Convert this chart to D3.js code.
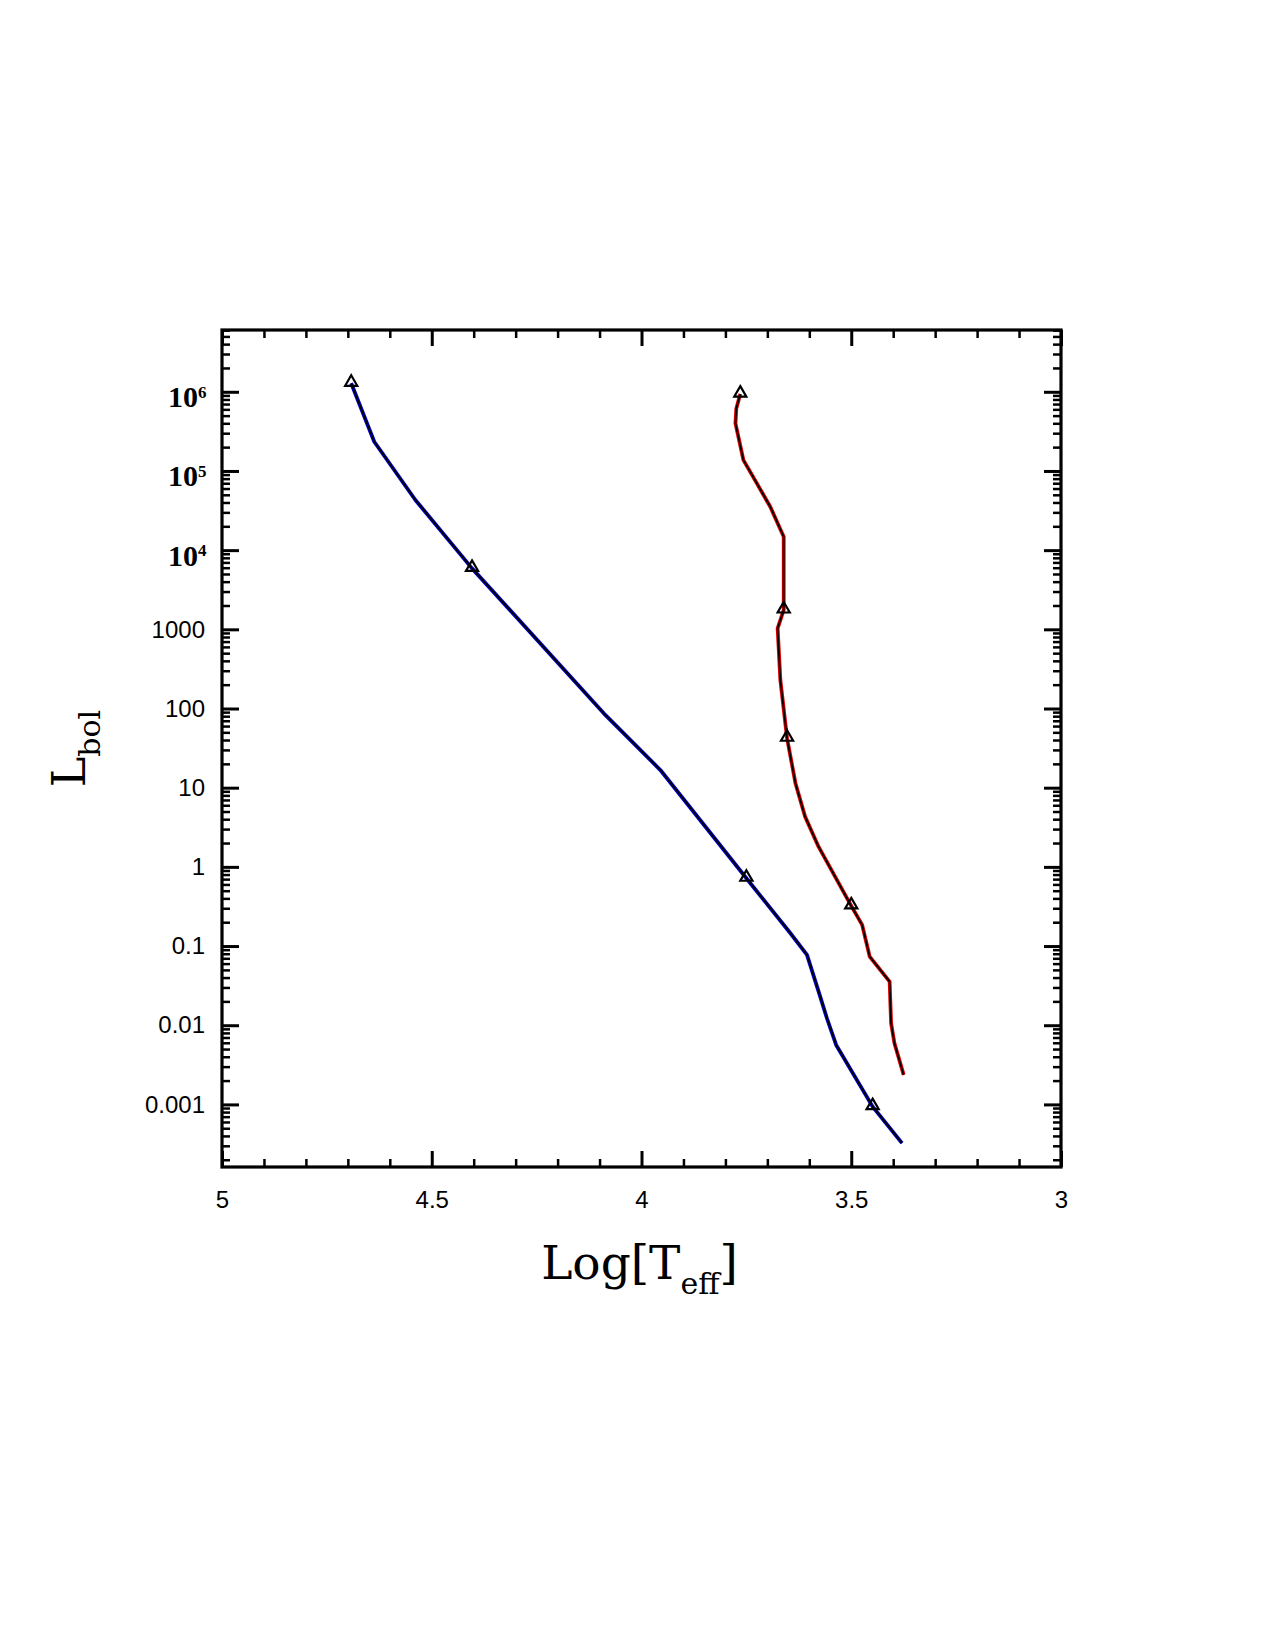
<!DOCTYPE html>
<html>
<head>
<meta charset="utf-8">
<script src="https://cdn.jsdelivr.net/npm/d3@7"></script>
<style>
  body { margin: 0; background: #fff; }
  svg { display: block; }
</style>
</head>
<body>
<div class="chart"></div>
<script>
// track 1 (blue): log Teff and bolometric luminosity
var blueLogT = [4.692, 4.637, 4.539, 4.404, 4.090, 3.955, 3.750, 3.645, 3.6055, 3.574, 3.558, 3.536, 3.449, 3.379];
var blueLum  = [1.28e6, 2.34e5, 4.30e4, 5.89e3, 86.9, 16.7, 0.718, 0.145, 0.0773, 0.0230, 0.01225, 0.00564, 9.38e-4, 3.24e-4];

// track 2 (red)
var redLogT = [3.7645, 3.774, 3.776, 3.757, 3.725, 3.693, 3.661, 3.661, 3.6755, 3.669, 3.653, 3.633, 3.610, 3.578, 3.500, 3.474, 3.456, 3.4085, 3.405, 3.397, 3.375];
var redLum  = [9.35e5, 6.17e5, 3.99e5, 1.37e5, 6.97e4, 3.53e4, 1.48e4, 1754, 1030, 229, 42.1, 11.4, 4.31, 1.80, 0.321, 0.185, 0.0735, 0.0356, 0.0106, 0.00593, 0.00236];

// triangle markers
var blueMarkLogT = [4.692, 4.404, 3.750, 3.449];
var blueMarkLum  = [1.28e6, 5.89e3, 0.718, 9.38e-4];
var redMarkLogT = [3.7645, 3.661, 3.653, 3.500];
var redMarkLum  = [9.35e5, 1754, 42.1, 0.321];

var xMajor = [5, 4.5, 4, 3.5, 3];
var yMajor = [1e-3, 1e-2, 1e-1, 1, 10, 100, 1000, 1e4, 1e5, 1e6];
var yLabels = ["0.001", "0.01", "0.1", "1", "10", "100", "1000", "10|4", "10|5", "10|6"];

var W = 1275, H = 1650;
var margin = { top: 330, right: 214, bottom: 483, left: 222 },
    width = W - margin.left - margin.right,
    height = H - margin.top - margin.bottom;

var svg = d3.select(".chart")
    .append("svg")
    .attr("width", W)
    .attr("height", H)
    .style("background", "#fff");

var g = svg.append("g")
    .attr("transform", "translate(" + margin.left + "," + margin.top + ")");

var x = d3.scaleLinear().domain([5, 3]).range([0, width]);
var y = d3.scaleLog().domain([1.62e-4, 6.03e6]).range([height, 0]);

var xMinor = d3.range(50, 29, -1).map(d => d / 10).filter(d => xMajor.indexOf(d) < 0);
var yMinor = [];
for (var e = -4; e <= 6; e++) {
    for (var k = 2; k <= 9; k++) {
        var v = k * Math.pow(10, e);
        if (v > y.domain()[0] && v < y.domain()[1]) yMinor.push(v);
    }
}

function styleAxis(sel, w) {
    sel.select(".domain").remove();
    sel.selectAll(".tick line").attr("stroke", "#000").attr("stroke-width", w);
}

// bottom axis
g.append("g")
    .attr("transform", "translate(0," + height + ")")
    .call(d3.axisBottom(x).tickValues(xMajor).tickSizeInner(-16).tickSizeOuter(0).tickPadding(24)
        .tickFormat(d3.format("")))
    .call(s => styleAxis(s, 3))
    .selectAll("text")
    .attr("fill", "#000")
    .style("font-family", "'Liberation Sans', Arial, sans-serif")
    .style("font-size", "24px");

g.append("g")
    .attr("transform", "translate(0," + height + ")")
    .call(d3.axisBottom(x).tickValues(xMinor).tickSize(-8).tickFormat(""))
    .call(s => styleAxis(s, 2.5));

// top axis
g.append("g")
    .call(d3.axisTop(x).tickValues(xMajor).tickSize(-16).tickFormat(""))
    .call(s => styleAxis(s, 3));
g.append("g")
    .call(d3.axisTop(x).tickValues(xMinor).tickSize(-8).tickFormat(""))
    .call(s => styleAxis(s, 2.5));

// left axis
var left = g.append("g")
    .call(d3.axisLeft(y).tickValues(yMajor).tickSizeInner(-17).tickSizeOuter(0).tickPadding(17)
        .tickFormat((d, i) => yLabels[i]))
    .call(s => styleAxis(s, 3));

left.selectAll(".tick text").each(function (d, i) {
    var t = d3.select(this);
    var lab = yLabels[i];
    t.attr("fill", "#000");
    if (lab.indexOf("|") >= 0) {
        var parts = lab.split("|");
        t.text(null)
            .attr("dy", "0.5em")
            .style("font-family", "'Liberation Serif', 'Times New Roman', serif")
            .style("font-weight", "bold")
            .style("font-size", "30px");
        t.append("tspan").text(parts[0]);
        t.append("tspan").text(parts[1]).attr("dy", "-0.55em").style("font-size", "17px");
        t.attr("dx", "0.05em");
    } else {
        t.style("font-family", "'Liberation Sans', Arial, sans-serif").style("font-size", "24px");
    }
});

g.append("g")
    .call(d3.axisLeft(y).tickValues(yMinor).tickSize(-8).tickFormat(""))
    .call(s => styleAxis(s, 2.5));

// right axis
g.append("g")
    .attr("transform", "translate(" + width + ",0)")
    .call(d3.axisRight(y).tickValues(yMajor).tickSize(-17).tickFormat(""))
    .call(s => styleAxis(s, 3));
g.append("g")
    .attr("transform", "translate(" + width + ",0)")
    .call(d3.axisRight(y).tickValues(yMinor).tickSize(-8).tickFormat(""))
    .call(s => styleAxis(s, 2.5));

// frame
g.append("rect")
    .attr("width", width)
    .attr("height", height)
    .attr("fill", "none")
    .attr("stroke", "#000")
    .attr("stroke-width", 3.2);

// tracks
var line = d3.line()
    .x(d => x(d[0]))
    .y(d => y(d[1]));

function drawTrack(logT, lum, color) {
    var pts = logT.map((t, i) => [t, lum[i]]);
    g.append("path").datum(pts)
        .attr("d", line)
        .attr("fill", "none")
        .attr("stroke", color)
        .attr("stroke-width", 3.8)
        .attr("stroke-linejoin", "round");
    g.append("path").datum(pts)
        .attr("d", line)
        .attr("fill", "none")
        .attr("stroke", "#000")
        .attr("stroke-width", 1.8)
        .attr("stroke-linejoin", "round");
}

drawTrack(blueLogT, blueLum, "#0000d0");
drawTrack(redLogT, redLum, "#e00000");

function drawMarks(logT, lum) {
    var tri = d3.symbol().type(d3.symbolTriangle).size(64);
    g.selectAll(null)
        .data(logT.map((t, i) => [t, lum[i]]))
        .enter()
        .append("path")
        .attr("d", tri)
        .attr("transform", d => "translate(" + x(d[0]) + "," + (y(d[1]) - 1) + ")")
        .attr("fill", "none")
        .attr("stroke", "#000")
        .attr("stroke-width", 2.2);
}

drawMarks(blueMarkLogT, blueMarkLum);
drawMarks(redMarkLogT, redMarkLum);

// axis titles
var xt = svg.append("text")
    .attr("x", margin.left + width / 2 - 2)
    .attr("y", 1279)
    .attr("text-anchor", "middle")
    .style("font-family", "'DejaVu Serif', 'Liberation Serif', serif")
    .style("font-size", "47px")
    .attr("fill", "#000");
xt.append("tspan").text("Log[T");
xt.append("tspan").text("eff").attr("dy", 15).style("font-size", "30px");
xt.append("tspan").text("]").attr("dy", -15);

var yt = svg.append("text")
    .attr("transform", "translate(85," + (margin.top + height / 2) + ") rotate(-90)")
    .attr("text-anchor", "middle")
    .style("font-family", "'DejaVu Serif', 'Liberation Serif', serif")
    .style("font-size", "46px")
    .attr("fill", "#000");
yt.append("tspan").text("L");
yt.append("tspan").text("bol").attr("dy", 15).style("font-size", "30px");
</script>
</body>
</html>
